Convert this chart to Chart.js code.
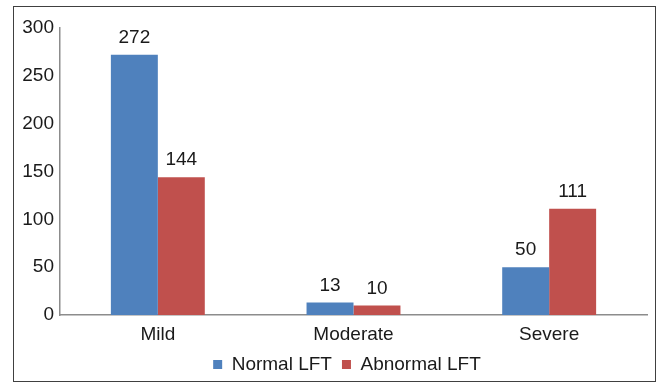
<!DOCTYPE html>
<html>
<head>
<meta charset="utf-8">
<script src="https://cdn.jsdelivr.net/npm/chart.js@4/dist/chart.umd.min.js"></script>
<style>
    html, body { margin: 0; padding: 0; background: #fff; }
    #wrap { position: relative; width: 659px; height: 384px; }
    #frame { position: absolute; left: 13px; top: 6px; width: 643px; height: 376px; border: 1.5px solid #404040; box-sizing: border-box; pointer-events: none; }
</style>
</head>
<body>
<div id="wrap">
    <canvas id="chart" width="659" height="384"></canvas>
    <div id="frame"></div>
</div>
<script>
const categories = ['Mild', 'Moderate', 'Severe'];
const normalLFT = [272, 13, 50];
const abnormalLFT = [144, 10, 111];
const yTicks = [0, 50, 100, 150, 200, 250, 300];

const FONT = { family: 'Arial, "Liberation Sans", sans-serif', size: 19 };

// draws the value above each bar
const barValues = {
    id: 'barValues',
    afterDatasetsDraw(chart) {
        const ctx = chart.ctx;
        ctx.save();
        ctx.font = `${FONT.size}px ${FONT.family}`;
        ctx.fillStyle = '#1a1a1a';
        ctx.textAlign = 'center';
        ctx.textBaseline = 'middle';
        chart.data.datasets.forEach((ds, i) => {
            chart.getDatasetMeta(i).data.forEach((bar, j) => {
                ctx.fillText(ds.data[j], bar.x, bar.y - 17);
            });
        });
        ctx.restore();
    }
};

// legend in the original sits a bit right of the canvas centre
const legendShift = {
    id: 'legendShift',
    afterLayout(chart) {
        const lg = chart.legend;
        if (lg) { lg.left += 17; lg.right += 17; }
    }
};

new Chart(document.getElementById('chart'), {
    type: 'bar',
    data: {
        labels: categories,
        datasets: [
            { label: 'Normal LFT', data: normalLFT, backgroundColor: '#4F81BD' },
            { label: 'Abnormal LFT', data: abnormalLFT, backgroundColor: '#C0504D' }
        ]
    },
    options: {
        responsive: false,
        animation: false,
        layout: { padding: { left: 13, right: 12, top: 28, bottom: 0 } },
        datasets: { bar: { categoryPercentage: 0.48, barPercentage: 1 } },
        scales: {
            x: {
                grid: { display: false, drawTicks: false },
                border: { color: '#8c8c8c', width: 1.5 },
                ticks: { color: '#1a1a1a', font: FONT, padding: 8 },
                afterFit(scale) { scale.height = 30; }
            },
            y: {
                min: 0,
                max: 300,
                afterBuildTicks(scale) { scale.ticks = yTicks.map(v => ({ value: v })); },
                grid: { display: false, drawTicks: false },
                border: { color: '#8c8c8c', width: 1.5 },
                ticks: { color: '#1a1a1a', font: FONT, padding: 6 },
                afterFit(scale) { scale.width = 47; }
            }
        },
        plugins: {
            legend: {
                position: 'bottom',
                labels: { boxWidth: 9, boxHeight: 9, color: '#1a1a1a', font: FONT, padding: 10 }
            },
            tooltip: { enabled: false }
        }
    },
    plugins: [barValues, legendShift]
});
</script>
</body>
</html>
